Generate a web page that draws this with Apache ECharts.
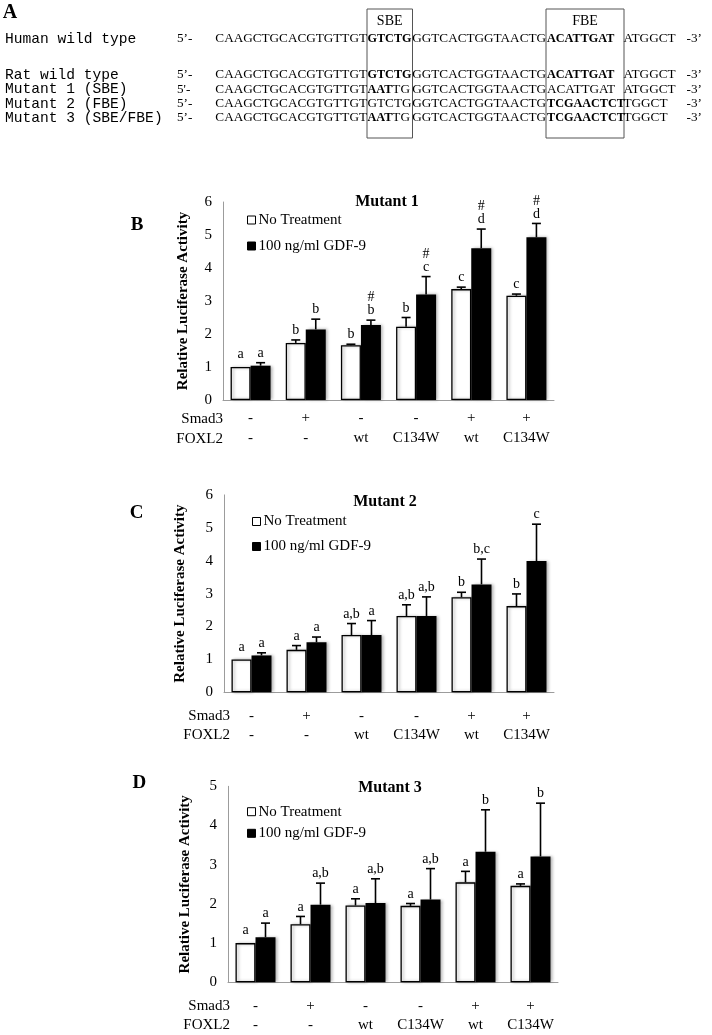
<!DOCTYPE html>
<html><head><meta charset="utf-8">
<script src="https://cdn.jsdelivr.net/npm/echarts@6/dist/echarts.min.js"></script>
<style>html,body{margin:0;padding:0;background:#fff}#c{width:712px;height:1035px}</style>
</head><body><div id="c"></div>
<script>
// ---------- DATA ----------
const categories = ['1','2','3','4','5','6'];
const smad3 = ['-','+','-','-','+','+'];
const foxl2 = ['-','-','wt','C134W','wt','C134W'];
const seriesNames = ['No Treatment','100 ng/ml GDF-9'];
const yAxisName = 'Relative Luciferase Activity';
const chartTitles = ['Mutant 1','Mutant 2','Mutant 3'];
const panelLetters = ['A','B','C','D'];
const yTicksMax = [6, 6, 5];

// Mutant 1 (panel B)
const m1NoTreat     = [1.00, 1.73, 1.66, 2.22, 3.36, 3.16];
const m1NoTreatErr  = [0.00, 0.09, 0.03, 0.28, 0.06, 0.05];
const m1GDF9        = [1.04, 2.14, 2.27, 3.20, 4.60, 4.93];
const m1GDF9Err     = [0.09, 0.31, 0.15, 0.54, 0.58, 0.42];
const m1NoTreatSig  = ['a','b','b','b','c','c'];
const m1GDF9Sig     = ['a','b','#\nb','#\nc','#\nd','#\nd'];

// Mutant 2 (panel C)
const m2NoTreat     = [1.00, 1.29, 1.74, 2.32, 2.89, 2.62];
const m2NoTreatErr  = [0.00, 0.13, 0.35, 0.34, 0.15, 0.37];
const m2GDF9        = [1.12, 1.52, 1.74, 2.32, 3.28, 3.99];
const m2GDF9Err     = [0.08, 0.16, 0.44, 0.58, 0.77, 1.12];
const m2NoTreatSig  = ['a','a','a,b','a,b','b','b'];
const m2GDF9Sig     = ['a','a','a','a,b','b,c','c'];

// Mutant 3 (panel D)
const m3NoTreat     = [1.00, 1.48, 1.96, 1.95, 2.55, 2.46];
const m3NoTreatErr  = [0.00, 0.20, 0.17, 0.06, 0.28, 0.05];
const m3GDF9        = [1.15, 1.98, 2.02, 2.11, 3.33, 3.21];
const m3GDF9Err     = [0.36, 0.55, 0.62, 0.79, 1.07, 1.36];
const m3NoTreatSig  = ['a','a','a','a','a','a'];
const m3GDF9Sig     = ['a','a,b','a,b','a,b','b','b'];

// Panel A sequences
const seqLabels = ['Human wild type','Rat wild type','Mutant 1 (SBE)','Mutant 2 (FBE)','Mutant 3 (SBE/FBE)'];
const seqPrefix = ['5\u2019-','5\u2019-',"5'-",'5\u2019-','5\u2019-'];
const seqLead = 'CAAGCTGCACGTGTTGT';
const sbeBold = ['GTCTG','GTCTG','AAT','','AAT'];
const sbePlain = ['','','TG','GTCTG','TG'];
const seqMid = 'GGTCACTGGTAACTG';
const fbeBold = ['ACATTGAT','ACATTGAT','','TCGAACTCT','TCGAACTCT'];
const fbePlain = ['','','ACATTGAT','',''];
const seqTail = ['ATGGCT','ATGGCT','ATGGCT','TGGCT','TGGCT'];
const seqEnd = '-3\u2019';
const boxLabels = ['SBE','FBE'];

// ---------- LAYOUT ----------
const SERIF = '"Liberation Serif", "Times New Roman", serif';
const MONO = '"Liberation Mono", "Courier New", monospace';
const grids = [
  {left:223, top:202,   width:331, height:198},
  {left:224, top:494.9, width:330, height:197.4},
  {left:228, top:786.3, width:330, height:196}
];
const BW = 20;

const chart = echarts.init(document.getElementById('c'), null, {renderer:'canvas'});

function barSeries(g, name, data, isWhite) {
  return {
    type:'bar', name, xAxisIndex:g, yAxisIndex:g, data, barWidth:BW, barGap:'0%',
    itemStyle: isWhite
      ? {color:'#fff', borderColor:'#000', borderWidth:1.3, shadowColor:'rgba(0,0,0,0.3)', shadowBlur:3, shadowOffsetX:2}
      : {color:'#000', borderColor:'#000', borderWidth:0, shadowColor:'rgba(0,0,0,0.3)', shadowBlur:3, shadowOffsetX:2},
    silent:true, z:2
  };
}
function errSeries(g, values, errs, sigs, offset) {
  return {
    type:'custom', xAxisIndex:g, yAxisIndex:g, z:10, silent:true,
    data: values.map((v,i)=>[i, v, errs[i]]),
    renderItem(params, api) {
      const i = api.value(0), v = api.value(1), e = api.value(2);
      const base = api.coord([i, v]);
      const top = api.coord([i, v + e]);
      const cx = base[0] + offset;
      const children = [];
      if (e > 0) {
        children.push({type:'line', shape:{x1:cx, y1:base[1], x2:cx, y2:top[1]}, style:{stroke:'#000', lineWidth:1.6}});
        children.push({type:'line', shape:{x1:cx-4.5, y1:top[1], x2:cx+4.5, y2:top[1]}, style:{stroke:'#000', lineWidth:1.6}});
      }
      children.push({type:'text', x:cx, y:top[1] - (e > 0 ? 3 : 6), style:{
        text: sigs[params.dataIndex], align:'center', verticalAlign:'bottom',
        fontFamily:SERIF, fontSize:14, lineHeight:13, fill:'#000'}});
      return {type:'group', children};
    }
  };
}

const axisLineStyle = {lineStyle:{color:'#9c9c9c', width:1}};
const xLabelMargins = [8, 14, 14];
const xLabelLH = [20, 19, 19];
const nameGaps = [32, 36, 35];

const xAxes = grids.map((g,k)=>({
  type:'category', gridIndex:k, data:categories,
  axisLine:axisLineStyle, axisTick:{show:false},
  axisLabel:{interval:0, margin:xLabelMargins[k], lineHeight:xLabelLH[k], fontFamily:SERIF, fontSize:15, color:'#000',
    formatter:(val, idx)=> smad3[idx] + '\n' + foxl2[idx]}
}));
const yAxes = grids.map((g,k)=>({
  type:'value', gridIndex:k, min:0, max:yTicksMax[k], interval:1,
  axisLine:{show:true, ...axisLineStyle}, axisTick:{show:false}, splitLine:{show:false},
  axisLabel:{margin:11, fontFamily:SERIF, fontSize:15, color:'#000'},
  name:yAxisName, nameLocation:'middle', nameGap:nameGaps[k],
  nameTextStyle:{fontFamily:SERIF, fontSize:15, fontWeight:'bold', color:'#000'}
}));

const legendPos = [
  {left:247, top:212, itemGap:10},
  {left:252, top:513.5, itemGap:9},
  {left:247, top:803.7, itemGap:5.6}
];
const legends = legendPos.map(p=>({
  data:seriesNames, orient:'vertical', left:p.left, top:p.top, itemGap:p.itemGap, padding:0,
  icon:'rect', itemWidth:8, itemHeight:8, selectedMode:false,
  itemStyle:{shadowBlur:0, shadowOffsetX:0, borderWidth:1},
  textStyle:{fontFamily:SERIF, fontSize:15, lineHeight:16, color:'#000', padding:[0,0,0,-2]}
}));

const titlePos = [{x:387, y:193.7},{x:385, y:493.7},{x:390, y:780.3}];
const titles = titlePos.map((p,k)=>({
  text:chartTitles[k], left:p.x, top:p.y, textAlign:'center', padding:0,
  textStyle:{fontFamily:SERIF, fontSize:16, fontWeight:'bold', color:'#000'}
}));

const allData = [
  [m1NoTreat, m1NoTreatErr, m1NoTreatSig, m1GDF9, m1GDF9Err, m1GDF9Sig],
  [m2NoTreat, m2NoTreatErr, m2NoTreatSig, m2GDF9, m2GDF9Err, m2GDF9Sig],
  [m3NoTreat, m3NoTreatErr, m3NoTreatSig, m3GDF9, m3GDF9Err, m3GDF9Sig]
];
const series = [];
allData.forEach((d,k)=>{
  series.push(barSeries(k, seriesNames[0], d[0], true));
  series.push(barSeries(k, seriesNames[1], d[3], false));
  series.push(errSeries(k, d[0], d[1], d[2], -BW/2));
  series.push(errSeries(k, d[3], d[4], d[5], BW/2));
});

// ---------- GRAPHIC (panel A + letters + row labels) ----------
const graphics = [];
function T(x, y, text, font, align, extra) {
  return {type:'text', x, y, silent:true, style:Object.assign({text, align:align||'left', verticalAlign:'middle', fill:'#000'}, font, extra||{})};
}
const seqFont = {fontFamily:SERIF, fontSize:13.2};
const monoFont = {fontFamily:MONO, fontSize:14.6};
function richSeg(x, y, bold, plain) {
  let txt = '';
  if (bold) txt += '{b|' + bold + '}';
  if (plain) txt += '{r|' + plain + '}';
  return {type:'text', x, y, silent:true, style:{text:txt, align:'left', verticalAlign:'middle', fill:'#000',
    fontFamily:SERIF, fontSize:13.2,
    rich:{b:{fontFamily:SERIF, fontSize:12.2, fontWeight:'bold', fill:'#000'}, r:{fontFamily:SERIF, fontSize:13.2, fill:'#000'}}}};
}
const rowY = [39, 75, 89.5, 104, 118];
// boxes
graphics.push({type:'rect', shape:{x:367, y:9, width:45.5, height:129}, style:{fill:'none', stroke:'#555', lineWidth:1}, silent:true});
graphics.push({type:'rect', shape:{x:546, y:9, width:78, height:129}, style:{fill:'none', stroke:'#555', lineWidth:1}, silent:true});
graphics.push(T(389.7, 21, boxLabels[0], {fontFamily:SERIF, fontSize:14}, 'center'));
graphics.push(T(585, 21, boxLabels[1], {fontFamily:SERIF, fontSize:14}, 'center'));
seqLabels.forEach((lab,r)=>{
  const y = rowY[r];
  graphics.push(T(5, y, lab, monoFont, 'left'));
  graphics.push(T(177, y, seqPrefix[r], seqFont, 'left'));
  graphics.push(T(367, y, seqLead, seqFont, 'right'));
  graphics.push(richSeg(367.5, y, sbeBold[r], sbePlain[r]));
  graphics.push(T(546, y, seqMid, seqFont, 'right'));
  graphics.push(richSeg(547, y, fbeBold[r], fbePlain[r]));
  graphics.push(T(623.5, y, seqTail[r], seqFont, 'left'));
  graphics.push(T(702, y, seqEnd, seqFont, 'right'));
});
// panel letters
const letterFont = {fontFamily:SERIF, fontSize:19, fontWeight:'bold'};
graphics.push(T(10, 13, panelLetters[0], Object.assign({}, letterFont, {fontSize:20}), 'center'));
graphics.push(T(137, 225, panelLetters[1], letterFont, 'center'));
graphics.push(T(136.7, 513.3, panelLetters[2], letterFont, 'center'));
graphics.push(T(139.3, 783.3, panelLetters[3], letterFont, 'center'));
// table row labels
const rowLab = [{x:223, y1:419, y2:439},{x:230, y1:716, y2:735},{x:230, y1:1006, y2:1025}];
const tableFont = {fontFamily:SERIF, fontSize:15};
rowLab.forEach(p=>{
  graphics.push(T(p.x, p.y1, 'Smad3', tableFont, 'right'));
  graphics.push(T(p.x, p.y2, 'FOXL2', tableFont, 'right'));
});

chart.setOption({
  backgroundColor:'#fff',
  animation:false,
  title:titles,
  legend:legends,
  grid:grids,
  xAxis:xAxes,
  yAxis:yAxes,
  series,
  graphic:{elements:graphics}
});
</script></body></html>
